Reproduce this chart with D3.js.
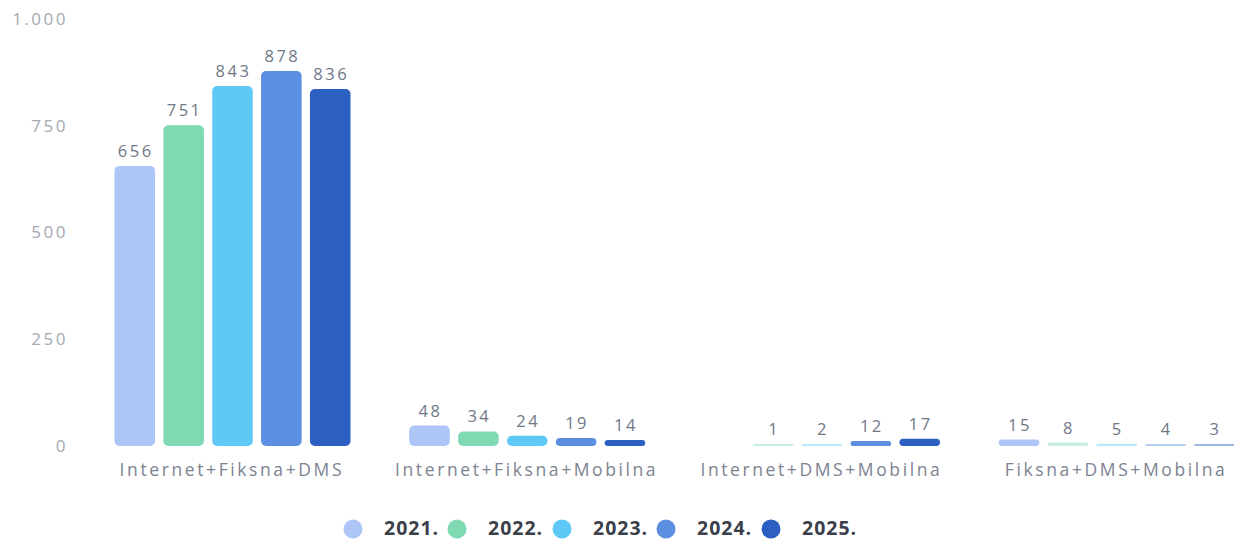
<!DOCTYPE html>
<html><head><meta charset="utf-8">
<script src="https://cdn.jsdelivr.net/npm/d3@7"></script>
<style>body{margin:0;background:#fff}</style>
</head><body>
<svg id="c" width="1234" height="541"></svg>
<script>
const categories = ["Internet+Fiksna+DMS","Internet+Fiksna+Mobilna","Internet+DMS+Mobilna","Fiksna+DMS+Mobilna"];
const years = ["2021.","2022.","2023.","2024.","2025."];
const s2021 = [656, 48, null, 15];
const s2022 = [751, 34, 1, 8];
const s2023 = [843, 24, 2, 5];
const s2024 = [878, 19, 12, 4];
const s2025 = [836, 14, 17, 3];
const yTicks = [0, 250, 500, 750, 1000];
const colors = ["#adc6f7","#7fd9b2","#5ec9f6","#5c8fe1","#2b5fc1"];

const series = [s2021,s2022,s2023,s2024,s2025];
const svg = d3.select("#c");
const font = "'Open Sans', Lato, sans-serif";

const y = d3.scaleLinear().domain([0,1000]).range([446,19]);
const x0 = d3.scaleBand().domain(categories).range([84.5,1263.5]).padding(0);
const x1 = d3.scaleBand().domain(years).range([30,266]).paddingInner(0.17);

// y axis
const yAxis = d3.axisLeft(y).tickValues(yTicks).tickSize(0).tickPadding(0)
  .tickFormat(d => d3.format(",")(d).replace(",", "."));
const ga = svg.append("g").attr("transform","translate(68,0)").call(yAxis);
ga.select(".domain").remove();
ga.selectAll("text").attr("font-family",font).attr("font-size",17).attr("letter-spacing","2.5px").attr("fill","#a3a9b3");

// bars
categories.forEach((cat,ci)=>{
  const g = svg.append("g").attr("transform",`translate(${x0(cat)},0)`);
  years.forEach((yr,si)=>{
    const v = series[si][ci];
    if (v === null) return;
    const h = Math.max(y(0)-y(v), 2);
    const r = Math.min(5, h/2);
    g.append("rect").attr("x",x1(yr)).attr("y",y(0)-h).attr("width",x1.bandwidth()).attr("height",h)
      .attr("rx",r).attr("ry",r).attr("fill",colors[si]).attr("opacity", v<10?0.45:1);
    g.append("text").attr("x",x1(yr)+x1.bandwidth()/2+1).attr("y",y(0)-h-9)
      .attr("text-anchor","middle").attr("font-family",font).attr("font-size",16.5)
      .attr("letter-spacing","2.5px").attr("fill","#6f7787").text(v);
  });
  svg.append("text").attr("x",x0(cat)+x0.bandwidth()/2).attr("y",476).attr("text-anchor","middle")
    .attr("font-family",font).attr("font-size",17.5).attr("letter-spacing","2.6px").attr("fill","#7c8391").text(cat);
});

// legend
const lx = [353,457,562,666,771];
years.forEach((yr,i)=>{
  svg.append("circle").attr("cx",lx[i]).attr("cy",529).attr("r",9.5).attr("fill",colors[i]);
  svg.append("text").attr("x",lx[i]+31).attr("y",535).attr("font-family",font).attr("font-weight","bold")
    .attr("font-size",19.5).attr("letter-spacing","1px").attr("fill","#3b3f4a").text(yr);
});
</script>
</body></html>
